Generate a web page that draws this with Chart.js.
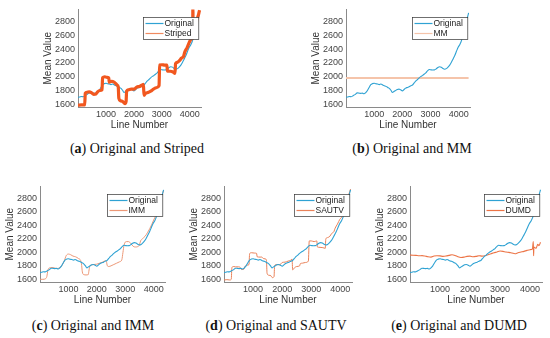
<!DOCTYPE html>
<html>
<head>
<meta charset="utf-8">
<script src="https://cdn.jsdelivr.net/npm/chart.js@4/dist/chart.umd.min.js"></script>
<style>
  html, body { margin: 0; padding: 0; background: #fff; }
  body { width: 550px; height: 338px; position: relative; overflow: hidden; }
  canvas { position: absolute; }
  .cap { position: absolute; font-family: "Liberation Serif", serif; font-size: 14px; color: #111; text-align: center; white-space: nowrap; }
</style>
</head>
<body>
<canvas id="pa"></canvas>
<canvas id="pb"></canvas>
<canvas id="pc"></canvas>
<canvas id="pd"></canvas>
<canvas id="pe"></canvas>
<div class="cap" style="left:37px;top:141px;width:200px">(<b>a</b>) Original and Striped</div>
<div class="cap" style="left:312px;top:141px;width:200px">(<b>b</b>) Original and MM</div>
<div class="cap" style="left:-7px;top:318px;width:200px">(<b>c</b>) Original and IMM</div>
<div class="cap" style="left:176px;top:318px;width:200px">(<b>d</b>) Original and SAUTV</div>
<div class="cap" style="left:359px;top:318px;width:200px">(<b>e</b>) Original and DUMD</div>
<script>
// y ticks and axis range
const yTicks = [1600, 1800, 2000, 2200, 2400, 2600, 2800];
const xTicks = [1000, 2000, 3000, 4000];

// original image column means
const origX = [0, 60, 120, 180, 250, 320, 400, 460, 520, 580, 640, 700, 760, 820, 880, 940, 1000, 1060, 1120, 1180, 1240, 1300, 1360, 1420, 1480, 1540, 1600, 1650, 1700, 1760, 1820, 1880, 1940, 2000, 2060, 2120, 2180, 2240, 2300, 2360, 2420, 2480, 2540, 2600, 2660, 2720, 2780, 2840, 2900, 2960, 3020, 3080, 3140, 3200, 3260, 3320, 3380, 3440, 3500, 3560, 3620, 3680, 3740, 3800, 3860, 3920, 3980, 4040, 4100, 4140, 4160, 4200, 4240, 4280, 4320, 4350];
const origY = [1700, 1705, 1712, 1710, 1725, 1740, 1765, 1762, 1758, 1762, 1752, 1770, 1800, 1845, 1885, 1900, 1905, 1898, 1895, 1885, 1895, 1880, 1870, 1860, 1845, 1830, 1800, 1770, 1785, 1800, 1815, 1820, 1810, 1795, 1815, 1835, 1845, 1855, 1870, 1880, 1910, 1940, 1960, 1985, 2005, 2020, 2040, 2060, 2090, 2105, 2100, 2098, 2100, 2115, 2135, 2145, 2140, 2120, 2110, 2118, 2140, 2170, 2210, 2260, 2310, 2370, 2430, 2470, 2530, 2600, 2630, 2690, 2760, 2830, 2880, 2930];

// striped image
const stripedX = [0, 120, 240, 260, 320, 400, 480, 560, 640, 700, 780, 860, 880, 960, 1040, 1100, 1120, 1200, 1300, 1400, 1440, 1460, 1520, 1600, 1680, 1720, 1740, 1800, 1900, 2000, 2100, 2200, 2300, 2340, 2360, 2420, 2500, 2600, 2700, 2800, 2900, 2920, 3000, 3100, 3180, 3200, 3300, 3400, 3470, 3490, 3550, 3620, 3700, 3780, 3820, 3900, 3980, 4060, 4100, 4110, 4120, 4200, 4260, 4320, 4350];
const stripedY = [1585, 1590, 1590, 1760, 1775, 1780, 1770, 1745, 1750, 1780, 1800, 1810, 1985, 2000, 1990, 1985, 1920, 1935, 1920, 1880, 1850, 1690, 1650, 1640, 1610, 1640, 1790, 1810, 1820, 1820, 1850, 1860, 1880, 1890, 1730, 1760, 1770, 1790, 1820, 1840, 1870, 2170, 2175, 2170, 2170, 2080, 2080, 2070, 2050, 2190, 2210, 2230, 2270, 2300, 2360, 2420, 2500, 2550, 2560, 3000, 2600, 2720, 2830, 2920, 2970];

// MM result (flat)
const mmX = [0, 4350];
const mmY = [1982, 1982];

// IMM result
const immX = [0, 100, 200, 240, 280, 340, 420, 500, 600, 700, 780, 860, 920, 1000, 1080, 1160, 1250, 1350, 1430, 1460, 1490, 1540, 1620, 1700, 1720, 1750, 1800, 1900, 2000, 2100, 2200, 2300, 2340, 2370, 2420, 2500, 2600, 2700, 2800, 2880, 2920, 2960, 3040, 3120, 3200, 3280, 3360, 3440, 3500, 3540, 3600, 3700, 3780, 3860, 3940, 4000, 4060, 4100, 4140, 4200, 4260, 4300, 4350];
const immY = [1600, 1600, 1610, 1640, 1740, 1770, 1775, 1770, 1760, 1775, 1810, 1880, 1950, 1975, 1965, 1945, 1935, 1910, 1880, 1830, 1710, 1670, 1665, 1670, 1720, 1790, 1810, 1820, 1825, 1840, 1855, 1875, 1860, 1800, 1790, 1800, 1820, 1840, 1860, 1890, 2000, 2110, 2160, 2160, 2130, 2090, 2080, 2085, 2110, 2170, 2200, 2240, 2290, 2350, 2420, 2480, 2530, 2570, 2620, 2700, 2790, 2850, 2920];

// SAUTV result
const sautvX = [0, 100, 200, 250, 270, 320, 400, 500, 560, 600, 680, 720, 800, 860, 880, 940, 1040, 1120, 1140, 1240, 1300, 1350, 1440, 1460, 1480, 1540, 1620, 1660, 1720, 1740, 1800, 1900, 1960, 2000, 2100, 2200, 2280, 2340, 2360, 2420, 2500, 2600, 2620, 2700, 2800, 2900, 2930, 3000, 3100, 3190, 3210, 3300, 3400, 3480, 3500, 3560, 3640, 3700, 3780, 3820, 3900, 3980, 4040, 4100, 4140, 4200, 4260, 4320, 4350];
const sautvY = [1590, 1595, 1590, 1600, 1770, 1790, 1785, 1785, 1775, 1745, 1750, 1790, 1810, 1820, 1980, 1995, 1990, 1985, 1935, 1930, 1930, 1910, 1900, 1880, 1690, 1660, 1650, 1625, 1640, 1800, 1820, 1815, 1830, 1850, 1855, 1870, 1880, 1900, 1740, 1770, 1790, 1800, 1830, 1840, 1850, 1870, 2170, 2170, 2160, 2170, 2080, 2075, 2070, 2060, 2200, 2220, 2240, 2280, 2310, 2360, 2420, 2490, 2520, 2560, 2620, 2720, 2820, 2900, 2940];

// DUMD result
const dumdX = [0, 100, 200, 300, 400, 500, 600, 700, 800, 900, 1000, 1100, 1200, 1300, 1400, 1500, 1600, 1700, 1800, 1900, 2000, 2100, 2200, 2300, 2400, 2500, 2600, 2700, 2800, 2900, 3000, 3100, 3200, 3300, 3400, 3500, 3600, 3700, 3800, 3900, 4000, 4080, 4110, 4120, 4130, 4200, 4260, 4300, 4350];
const dumdY = [1960, 1958, 1955, 1950, 1952, 1945, 1935, 1930, 1945, 1950, 1948, 1940, 1945, 1955, 1965, 1955, 1935, 1925, 1930, 1940, 1945, 1935, 1940, 1950, 1945, 1950, 1965, 1980, 1995, 2005, 2020, 2015, 2005, 2000, 1990, 1980, 1995, 2005, 2015, 2030, 2040, 2050, 2160, 1950, 2080, 2060, 2120, 2100, 2150];

const pts = (xs, ys) => xs.map((x, i) => ({ x: x, y: ys[i] }));

const BLUE = '#2fa2d3';
const FONT = '"Liberation Sans", Arial, sans-serif';

// legend box drawn inside the plot, top right
const boxLegend = {
    id: 'boxLegend',
    afterDatasetsDraw(chart) {
        const ctx = chart.ctx;
        const a = chart.chartArea;
        const sets = chart.data.datasets;
        ctx.save();
        ctx.font = '8.5px ' + FONT;
        const tw = Math.max(...sets.map(d => ctx.measureText(d.label).width));
        const w = 22 + tw + 4, h = 22;
        const x0 = Math.round(a.right - w - 3) + 0.5, y0 = Math.round(a.top + 8) + 0.5;
        ctx.fillStyle = '#fff';
        ctx.fillRect(x0, y0, w, h);
        ctx.strokeStyle = '#333';
        ctx.lineWidth = 0.7;
        ctx.strokeRect(x0, y0, w, h);
        sets.forEach((d, i) => {
            const yy = y0 + 6 + i * 10;
            ctx.strokeStyle = d.legendColor || d.borderColor;
            ctx.lineWidth = 1.2;
            ctx.beginPath();
            ctx.moveTo(x0 + 2, yy);
            ctx.lineTo(x0 + 20, yy);
            ctx.stroke();
            ctx.fillStyle = '#222';
            ctx.textBaseline = 'middle';
            ctx.fillText(d.label, x0 + 21, yy + 0.5);
        });
        ctx.restore();
    }
};

function makePanel(id, box, other) {
    const wy = 36, hx = 24, padT = 2, padR = 3;
    const cv = document.getElementById(id);
    cv.style.left = (box.l - wy) + 'px';
    cv.style.top = (box.t - padT) + 'px';
    cv.width = box.r - box.l + wy + padR;
    cv.height = box.b - box.t + padT + hx;

    new Chart(cv, {
        type: 'line',
        data: {
            datasets: [{
                label: 'Original',
                data: pts(origX, origY),
                borderColor: BLUE,
                borderWidth: 1.1,
                order: 1
            }, {
                label: other.label,
                data: pts(other.x, other.y),
                borderColor: other.color,
                legendColor: other.legendColor,
                borderWidth: other.width,
                order: other.order
            }]
        },
        options: {
            responsive: false,
            animation: false,
            events: [],
            layout: { padding: { top: padT, right: padR, left: 0, bottom: 0 } },
            elements: { point: { radius: 0 }, line: { cubicInterpolationMode: 'monotone' } },
            plugins: { legend: { display: false }, tooltip: { enabled: false } },
            scales: {
                x: {
                    type: 'linear',
                    min: 0,
                    max: 4400,
                    afterBuildTicks: s => { s.ticks = xTicks.map(v => ({ value: v })); },
                    afterFit: s => { s.height = hx; },
                    grid: { display: false, drawTicks: false },
                    border: { display: true, color: '#8a8a8a', width: 1 },
                    ticks: { color: '#444', font: { family: FONT, size: 9 }, padding: 2, maxRotation: 0, callback: v => String(v) },
                    title: { display: true, text: 'Line Number', color: '#333', font: { family: FONT, size: 10 }, padding: 0 }
                },
                y: {
                    type: 'linear',
                    min: 1560,
                    max: 2980,
                    afterBuildTicks: s => { s.ticks = yTicks.map(v => ({ value: v })); },
                    afterFit: s => { s.width = wy; },
                    grid: { display: false, drawTicks: false },
                    border: { display: true, color: '#8a8a8a', width: 1 },
                    ticks: { color: '#444', font: { family: FONT, size: 9 }, padding: 3, callback: v => String(v) },
                    title: { display: true, text: 'Mean Value', color: '#333', font: { family: FONT, size: 10 }, padding: 0 }
                }
            }
        },
        plugins: [boxLegend]
    });
}

makePanel('pa', { l: 78, r: 201, t: 3, b: 107 },
    { label: 'Striped', x: stripedX, y: stripedY, color: '#f1571f', legendColor: '#f08a60', width: 3.2, order: 0 });
makePanel('pb', { l: 346, r: 470, t: 3, b: 107 },
    { label: 'MM', x: mmX, y: mmY, color: '#f5c4aa', width: 2, order: 2 });
makePanel('pc', { l: 40, r: 165, t: 180, b: 282 },
    { label: 'IMM', x: immX, y: immY, color: '#ec9877', width: 1, order: 2 });
makePanel('pd', { l: 224, r: 352, t: 180, b: 282 },
    { label: 'SAUTV', x: sautvX, y: sautvY, color: '#e9825a', width: 1, order: 2 });
makePanel('pe', { l: 410, r: 542, t: 180, b: 282 },
    { label: 'DUMD', x: dumdX, y: dumdY, color: '#ec7446', width: 1.1, order: 2 });
</script>
</body>
</html>
